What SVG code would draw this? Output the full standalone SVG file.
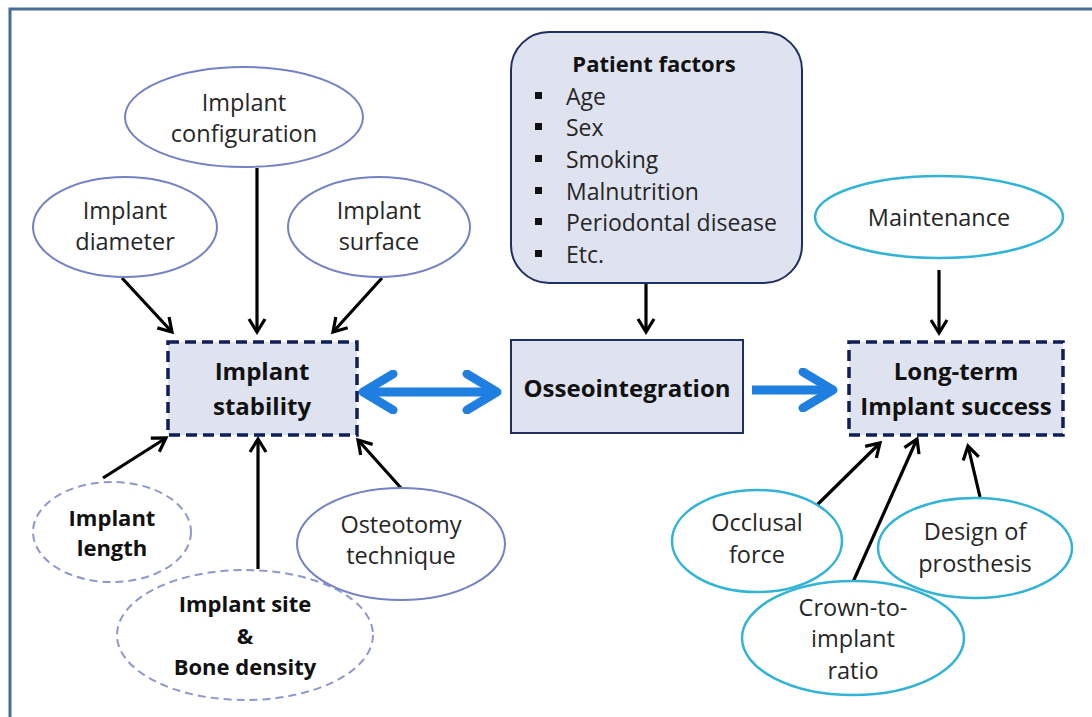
<svg xmlns="http://www.w3.org/2000/svg" width="1092" height="717" viewBox="0 0 1092 717">
  <style>
    .t { font-family: "Open Sans", "Liberation Sans", sans-serif; font-size: 23.5px; fill: #262626; text-anchor: middle; dominant-baseline: central; }
    .b { font-family: "Open Sans", "Liberation Sans", sans-serif; font-size: 22px; font-weight: bold; fill: #111; text-anchor: middle; dominant-baseline: central; }
    .bb { font-family: "Open Sans", "Liberation Sans", sans-serif; font-size: 24px; font-weight: bold; fill: #111; text-anchor: middle; dominant-baseline: central; }
    .lst { font-family: "Open Sans", "Liberation Sans", sans-serif; font-size: 23px; fill: #262626; dominant-baseline: central; }
    .ell { fill: #fff; stroke: #7482c4; stroke-width: 2; }
    .ell-d { fill: #fff; stroke: #8e98cc; stroke-width: 2; stroke-dasharray: 8 5; }
    .ell-c { fill: #fff; stroke: #33b3d6; stroke-width: 2.5; }
    .box-d { fill: #dfe3f0; stroke: #0f1f55; stroke-width: 3.5; stroke-dasharray: 11 6; }
    .box { fill: #dfe3f0; stroke: #1f2f5f; stroke-width: 2; }
    .arr { fill: none; stroke: #000; stroke-width: 3.2; marker-end: url(#open); }
    .big { fill: none; stroke: #1e7fe0; stroke-width: 9; }
  </style>
  <defs>
    <marker id="open" viewBox="0 0 20 20" refX="16" refY="10" markerWidth="20" markerHeight="20" markerUnits="userSpaceOnUse" orient="auto">
      <path d="M3,2 L16,10 L3,18" fill="none" stroke="#000" stroke-width="3.2"/>
    </marker>
    <marker id="blue" viewBox="0 0 44 44" refX="30" refY="22" markerWidth="44" markerHeight="44" markerUnits="userSpaceOnUse" orient="auto-start-reverse">
      <path d="M6,4 L36,22 L6,40" fill="none" stroke="#1e7fe0" stroke-width="9" stroke-linecap="round" stroke-linejoin="round"/>
    </marker>
  </defs>

  <rect x="0" y="0" width="1092" height="717" fill="#fff"/>
  <!-- outer frame -->
  <path d="M10,717 L10,9 L1092,9" fill="none" stroke="#4a6d96" stroke-width="3"/>

  <!-- connectors -->
  <g id="connectors">
    <line class="arr" x1="122" y1="278" x2="172" y2="332"/>
    <line class="arr" x1="257" y1="168" x2="257" y2="332"/>
    <line class="arr" x1="382" y1="278" x2="333" y2="332"/>
    <line class="arr" x1="103" y1="478" x2="166" y2="438"/>
    <line class="arr" x1="258" y1="569" x2="258" y2="439"/>
    <line class="arr" x1="401" y1="488" x2="358" y2="440"/>
    <line class="arr" x1="646" y1="284" x2="646" y2="332"/>
    <line class="arr" x1="939" y1="270" x2="939" y2="333"/>
    <line class="arr" x1="817" y1="505" x2="880" y2="443"/>
    <line class="arr" x1="853" y1="582" x2="917" y2="439"/>
    <line class="arr" x1="980" y1="497" x2="968" y2="446"/>
    <line class="big" x1="369" y1="392" x2="491" y2="392" marker-start="url(#blue)" marker-end="url(#blue)"/>
    <line class="big" x1="752" y1="390" x2="827" y2="390" marker-end="url(#blue)"/>
  </g>

  <g id="implant-configuration">
    <ellipse class="ell" cx="244" cy="117" rx="119" ry="50"/>
    <text class="t" x="244" y="102">Implant</text>
    <text class="t" x="244" y="133">configuration</text>
  </g>
  <g id="implant-diameter">
    <ellipse class="ell" cx="125" cy="227" rx="92" ry="50"/>
    <text class="t" x="125" y="210">Implant</text>
    <text class="t" x="125" y="241">diameter</text>
  </g>
  <g id="implant-surface">
    <ellipse class="ell" cx="379" cy="227" rx="91" ry="50"/>
    <text class="t" x="379" y="210">Implant</text>
    <text class="t" x="379" y="241">surface</text>
  </g>
  <g id="implant-stability">
    <rect class="box-d" x="168" y="342" width="189" height="93"/>
    <text class="bb" x="262" y="370">Implant</text>
    <text class="bb" x="262" y="405">stability</text>
  </g>
  <g id="implant-length">
    <ellipse class="ell-d" cx="112" cy="532" rx="79" ry="50"/>
    <text class="b" x="112" y="517">Implant</text>
    <text class="b" x="112" y="547">length</text>
  </g>
  <g id="implant-site">
    <ellipse class="ell-d" cx="245" cy="635" rx="128" ry="65"/>
    <text class="b" x="245" y="603">Implant site</text>
    <text class="b" x="245" y="635">&amp;</text>
    <text class="b" x="245" y="666">Bone density</text>
  </g>
  <g id="osteotomy-technique">
    <ellipse class="ell" cx="401" cy="544" rx="104" ry="56"/>
    <text class="t" x="401" y="524">Osteotomy</text>
    <text class="t" x="401" y="555">technique</text>
  </g>

  <g id="patient-factors">
    <rect class="box" x="511" y="32" width="291" height="251" rx="38" ry="38"/>
    <text class="b" x="654" y="63">Patient factors</text>
    <g fill="#111">
      <rect x="535" y="92" width="7" height="7"/>
      <rect x="535" y="123" width="7" height="7"/>
      <rect x="535" y="155" width="7" height="7"/>
      <rect x="535" y="187" width="7" height="7"/>
      <rect x="535" y="218" width="7" height="7"/>
      <rect x="535" y="250" width="7" height="7"/>
    </g>
    <text class="lst" x="566" y="96">Age</text>
    <text class="lst" x="566" y="127">Sex</text>
    <text class="lst" x="566" y="159">Smoking</text>
    <text class="lst" x="566" y="191">Malnutrition</text>
    <text class="lst" x="566" y="222">Periodontal disease</text>
    <text class="lst" x="566" y="254">Etc.</text>
  </g>

  <g id="osseointegration">
    <rect class="box" x="511" y="340" width="232" height="93"/>
    <text class="bb" x="627" y="387">Osseointegration</text>
  </g>

  <g id="maintenance">
    <ellipse class="ell-c" cx="939" cy="217" rx="124" ry="41"/>
    <text class="t" x="939" y="217">Maintenance</text>
  </g>
  <g id="long-term-success">
    <rect class="box-d" x="849" y="342" width="214" height="93"/>
    <text class="bb" x="956" y="370">Long-term</text>
    <text class="bb" x="956" y="405">Implant success</text>
  </g>
  <g id="occlusal-force">
    <ellipse class="ell-c" cx="757" cy="541" rx="85" ry="51"/>
    <text class="t" x="757" y="522">Occlusal</text>
    <text class="t" x="757" y="554">force</text>
  </g>
  <g id="crown-to-implant-ratio">
    <ellipse class="ell-c" cx="853" cy="638" rx="111" ry="57"/>
    <text class="t" x="853" y="607">Crown-to-</text>
    <text class="t" x="853" y="638">implant</text>
    <text class="t" x="853" y="670">ratio</text>
  </g>
  <g id="design-of-prosthesis">
    <ellipse class="ell-c" cx="975" cy="548" rx="97" ry="50"/>
    <text class="t" x="975" y="531">Design of</text>
    <text class="t" x="975" y="563">prosthesis</text>
  </g>
</svg>
